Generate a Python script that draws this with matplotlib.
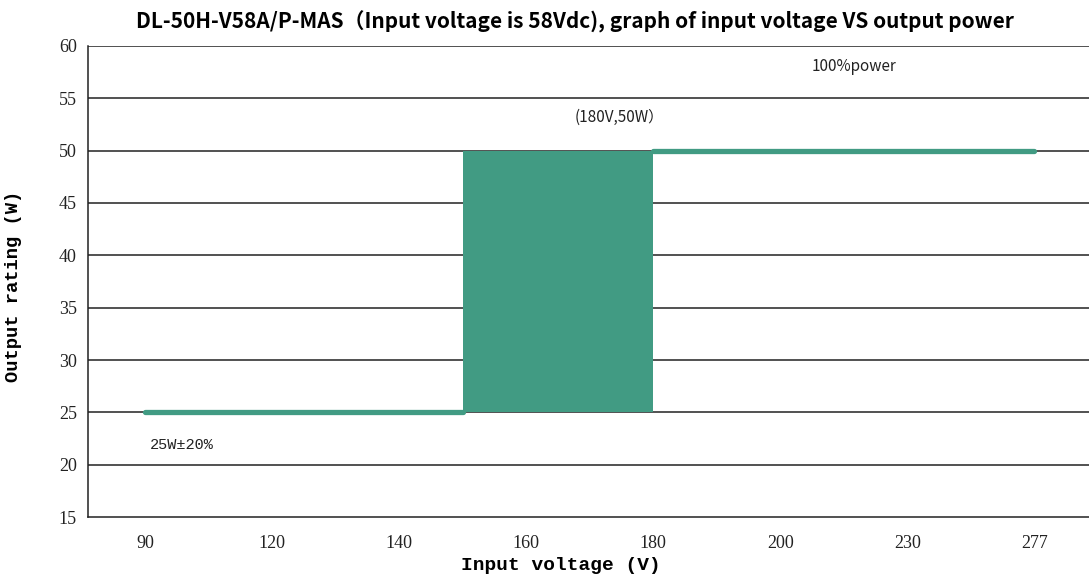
import matplotlib.pyplot as plt
import numpy as np

# input voltage categories (equally spaced on the axis)
voltages = ["90", "120", "140", "160", "180", "200", "230", "277"]
y_ticks = [15, 20, 25, 30, 35, 40, 45, 50, 55, 60]

# power curve, x in category index units
low_x = [0, 2.5]
low_y = [25, 25]
band_x = [2.5, 4]
band_lo = 25
band_hi = 50
high_x = [4, 7]
high_y = [50, 50]

green = "#419b83"

fig = plt.figure(figsize=(10.89, 5.8), dpi=100)
ax = fig.add_axes([0.0808, 0.1086, 0.9192, 0.8121])

for y in y_ticks[1:]:
    ax.axhline(y, color="#222222", lw=1.1, zorder=1)

ax.fill_between(band_x, band_lo, band_hi, color=green, lw=0, zorder=2)
ax.plot(low_x, low_y, color=green, lw=3.8, solid_capstyle="round", zorder=3)
ax.plot(high_x, high_y, color=green, lw=3.8, solid_capstyle="round", zorder=3)

ax.set_xlim(-0.45, 7.43)
ax.set_ylim(15, 60)
ax.set_xticks(range(len(voltages)))
ax.set_xticklabels(voltages)
ax.set_yticks(y_ticks)
ax.tick_params(length=0, labelsize=13, pad=8)
for lab in ax.get_xticklabels() + ax.get_yticklabels():
    lab.set_family("Liberation Serif")
    lab.set_color("#222222")
ax.tick_params(axis="x", pad=13)

ax.spines["top"].set_visible(False)
ax.spines["right"].set_visible(False)
ax.spines["left"].set_color("#222222")
ax.spines["bottom"].set_color("#222222")
ax.spines["left"].set_linewidth(1.1)
ax.spines["bottom"].set_linewidth(1.1)

ax.set_xlabel("Input voltage (V)", family="Liberation Mono", fontsize=14,
              fontweight="bold")
ax.xaxis.set_label_coords(0.472, -0.085)
ax.set_ylabel("Output rating (W)", family="Liberation Mono",
              fontsize=13.5, fontweight="bold")
ax.yaxis.set_label_coords(-0.066, 0.49)

fig.text(0.528, 0.963, "DL-50H-V58A/P-MAS（Input voltage is 58Vdc), graph of input voltage VS output power",
         ha="center", va="center", fontsize=15, fontweight="bold",
         family=["Noto Sans CJK SC", "DejaVu Sans"])

ax.text(3.73, 53.2, "(180V,50W）", ha="center", va="center", fontsize=11,
        family=["Noto Sans CJK SC", "DejaVu Sans"], color="#222222")
ax.text(5.58, 58.0, "100%power", ha="center", va="center", fontsize=11,
        family=["Noto Sans CJK SC", "DejaVu Sans"], color="#222222")
ax.text(0.29, 21.9, "25W±20%", ha="center", va="center", fontsize=11,
        family=["Liberation Mono", "Noto Sans CJK SC"], color="#222222")

fig.savefig("out.png", dpi=100)
